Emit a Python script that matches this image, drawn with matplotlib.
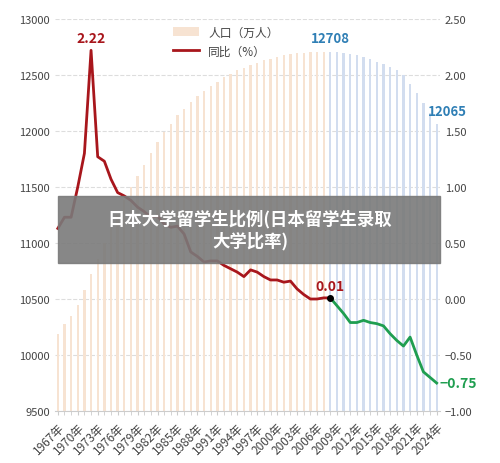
import matplotlib
matplotlib.use("Agg")
import matplotlib.pyplot as plt
import numpy as np
from matplotlib.patches import Rectangle

plt.rcParams['font.family'] = ['Noto Sans CJK SC', 'DejaVu Sans']

years = list(range(1967, 2025))
population = [10190, 10280, 10350, 10450, 10580, 10720, 10860, 11000, 11130, 11250,
              11380, 11500, 11600, 11700, 11800, 11900, 11990, 12060, 12140, 12200,
              12260, 12310, 12360, 12400, 12440, 12480, 12510, 12540, 12565, 12590,
              12610, 12630, 12645, 12660, 12675, 12685, 12695, 12700, 12703, 12705,
              12707, 12708, 12706, 12700, 12690, 12675, 12660, 12640, 12620, 12600,
              12570, 12540, 12500, 12420, 12340, 12250, 12160, 12065]
growth = [0.63, 0.73, 0.73, 1.00, 1.30, 2.22, 1.27, 1.23, 1.07, 0.95,
          0.92, 0.88, 0.82, 0.78, 0.73, 0.74, 0.67, 0.64, 0.65, 0.58,
          0.42, 0.38, 0.33, 0.34, 0.34, 0.30, 0.27, 0.24, 0.20, 0.26,
          0.24, 0.20, 0.17, 0.17, 0.15, 0.16, 0.09, 0.04, 0.00, 0.00,
          0.01, 0.01, -0.06, -0.13, -0.21, -0.21, -0.19, -0.21, -0.22, -0.24,
          -0.31, -0.37, -0.42, -0.34, -0.50, -0.65, -0.70, -0.75]
split = 41  # index where colours switch

fig = plt.figure(figsize=(5, 4.64), dpi=100)
ax = fig.add_axes([0.109, 0.112, 0.771, 0.845])
x = np.arange(len(years))
cols = ['#f7e3d2' if i < split else '#d2ddef' for i in range(len(years))]
ax.bar(x, np.array(population) - 9500, bottom=9500, width=0.35, color=cols, zorder=2,
       label='人口（万人）')
ax.set_ylim(9500, 13000)
ax.set_xlim(-0.5, len(years) - 0.5)
ax.set_yticks(range(9500, 13001, 500))
ax.grid(axis='y', linestyle='--', color='#dddddd', linewidth=0.8, zorder=0)
for s in ax.spines.values():
    s.set_visible(False)
ax.spines['bottom'].set_visible(True)
ax.spines['bottom'].set_color('#cccccc')
ax.tick_params(axis='y', length=0, labelsize=8, colors='#444444')
ax.set_xticks(x, minor=True)
ax.set_xticks(x[::3])
ax.set_xticklabels([f'{y}年' for y in years[::3]], rotation=45, ha='right',
                   rotation_mode='anchor', fontsize=8.5, color='#444444')
ax.tick_params(axis='x', which='both', length=3, color='#cccccc')

ax2 = ax.twinx()
ax2.set_ylim(-1.0, 2.5)
ax2.set_yticks(np.arange(-1.0, 2.51, 0.5))
ax2.set_yticklabels([f'{v:.2f}'.replace('-', '−') for v in np.arange(-1.0, 2.51, 0.5)])
for s in ax2.spines.values():
    s.set_visible(False)
ax2.tick_params(axis='y', length=0, labelsize=8, colors='#444444')
ax2.plot(x[:split + 1], growth[:split + 1], color='#a8161c', lw=2, zorder=3, label='同比（%）')
ax2.plot(x[split:], growth[split:], color='#1f9e50', lw=2, zorder=3)
ax2.plot(x[split], growth[split], 'o', color='black', ms=4, zorder=4)

pk = int(np.argmax(growth))
ax2.annotate(f'{growth[pk]:.2f}', (x[pk], growth[pk]), xytext=(0, 6), textcoords='offset points',
             ha='center', color='#a8161c', fontweight='bold', fontsize=10)
ax2.annotate(f'{growth[split]:.2f}', (x[split], growth[split]), xytext=(0, 6), textcoords='offset points',
             ha='center', color='#a8161c', fontweight='bold', fontsize=10)
ax2.annotate(f'{growth[-1]:.2f}'.replace('-', '−'), (x[-1], growth[-1]), xytext=(2, 0),
             textcoords='offset points', ha='left', va='center', color='#1f9e50',
             fontweight='bold', fontsize=10)
pp = int(np.argmax(population))
ax.annotate(str(population[pp]), (x[pp], population[pp]), xytext=(0, 7), textcoords='offset points',
            ha='center', color='#2f7fb5', fontweight='bold', fontsize=9.5)
ax.annotate(str(population[-1]), (x[-1], population[-1]), xytext=(8, 6), textcoords='offset points',
            ha='center', color='#2f7fb5', fontweight='bold', fontsize=9.5)

h1, l1 = ax.get_legend_handles_labels()
h2, l2 = ax2.get_legend_handles_labels()
leg = ax2.legend(h1 + h2, l1 + l2, loc='upper left', bbox_to_anchor=(0.28, 1.01), frameon=False,
                 fontsize=8.5, handlelength=2.2)
for t in leg.get_texts():
    t.set_color('#444444')

fig.patches.append(Rectangle((58 / 500, 1 - 264 / 464), 382 / 500, 67 / 464,
                             transform=fig.transFigure, color='#7a7a7a', alpha=0.9, zorder=10))
fig.text(250 / 500, 1 - 230 / 464, '日本大学留学生比例(日本留学生录取\n大学比率)', ha='center', va='center',
         color='white', fontsize=12.5, fontweight='bold', zorder=11, linespacing=1.25)

fig.savefig('out.png', dpi=100)
